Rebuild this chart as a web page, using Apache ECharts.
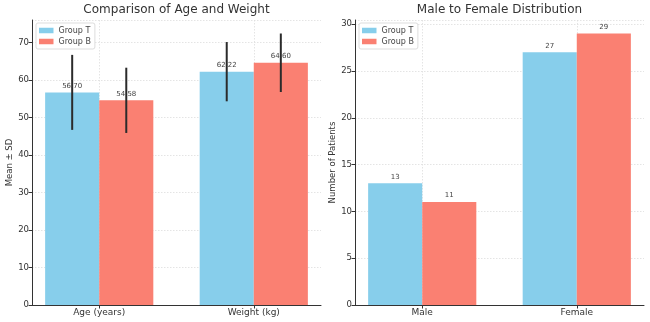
<!DOCTYPE html>
<html><head><meta charset="utf-8">
<script src="https://cdn.jsdelivr.net/npm/echarts@6/dist/echarts.min.js"></script>
<style>html,body{margin:0;padding:0;background:#fff}#c{width:650px;height:322px}</style>
</head><body><div id="c"></div>
<script>
// ---- data ----
const measureCats = ['Age (years)', 'Weight (kg)'];
const groupTMeans = [56.70, 62.22];
const groupBMeans = [54.58, 64.60];
const groupTSD = [10.0, 7.9];
const groupBSD = [8.7, 7.8];
const genderCats = ['Male', 'Female'];
const groupTCounts = [13, 27];
const groupBCounts = [11, 29];
const groupNames = ['Group T', 'Group B'];

// ---- style ----
const colors = ['#87CEEB', '#FA8072'];
const BAR = 0.35;
const FONT = 'DejaVu Sans';
const AXC = '#333';

function barRenderer(side, decimals, withErr) {
  return function (params, api) {
    const i = api.value(0), v = api.value(1);
    const x0 = side < 0 ? i - BAR : i;
    const p0 = api.coord([x0, v]);
    const p1 = api.coord([x0 + BAR, 0]);
    const cx = (p0[0] + p1[0]) / 2;
    const children = [
      { type: 'rect', shape: { x: p0[0], y: p0[1], width: p1[0] - p0[0], height: p1[1] - p0[1] },
        style: { fill: api.visual('color') } },
      { type: 'text', x: cx, y: p0[1] - 3,
        style: { text: v.toFixed(decimals), textAlign: 'center', textVerticalAlign: 'bottom',
                 font: '7px "DejaVu Sans"', fill: '#444' } }
    ];
    if (withErr) {
      const sd = api.value(2);
      const hi = api.coord([i, v + sd])[1], lo = api.coord([i, v - sd])[1];
      children.push({ type: 'line', shape: { x1: cx, y1: hi, x2: cx, y2: lo },
        style: { stroke: '#2b2b2b', lineWidth: 2 } });
    }
    return { type: 'group', children };
  };
}

function xAxisFor(gridIndex, cats) {
  return {
    type: 'value', gridIndex, min: -0.435, max: 1.435,
    axisLine: { show: true, onZero: false, lineStyle: { color: AXC, width: 1 } },
    axisTick: { show: true, customValues: [0, 1], length: 3.5, lineStyle: { color: AXC } },
    axisLabel: { customValues: [0, 1], formatter: v => cats[Math.round(v)] || '',
                 fontFamily: FONT, fontSize: 9, color: '#333', margin: 3 },
    splitLine: { show: true, lineStyle: { color: '#ddd', width: 0.8, type: [1.5, 1.5] } }
  };
}
function yAxisFor(gridIndex, max, interval, name, gap) {
  return {
    type: 'value', gridIndex, min: 0, max, interval,
    name, nameLocation: 'middle', nameRotate: 90, nameGap: gap,
    nameTextStyle: { fontFamily: FONT, fontSize: 8.5, color: '#333' },
    axisLine: { show: true, onZero: false, lineStyle: { color: AXC, width: 1 } },
    axisTick: { show: true, length: 3.5, lineStyle: { color: AXC } },
    axisLabel: { fontFamily: FONT, fontSize: 8.5, color: '#333', margin: 3,
                 showMaxLabel: false },
    splitLine: { show: true, lineStyle: { color: '#ddd', width: 0.8, type: [1.5, 1.5] } }
  };
}
function legendFor(left, top, names) {
  return {
    left, top, orient: 'vertical', data: names.map(n => ({ name: n, icon: 'rect' })),
    itemWidth: 14.5, itemHeight: 5.5, itemGap: 2,
    padding: [3, 4, 3, 3], borderColor: '#ddd', borderWidth: 1, borderRadius: 2,
    backgroundColor: '#fff', formatter: n => n.trim(),
    textStyle: { fontFamily: FONT, fontSize: 8, color: '#444', lineHeight: 9 },
    selectedMode: false
  };
}

const chart = echarts.init(document.getElementById('c'), null, { renderer: 'canvas' });
chart.setOption({
  animation: false,
  backgroundColor: '#fff',
  title: [
    { text: 'Comparison of Age and Weight', left: 176.5, top: 4, textAlign: 'center', padding: 0,
      textStyle: { fontFamily: FONT, fontSize: 12, fontWeight: 'normal', color: '#333' } },
    { text: 'Male to Female Distribution', left: 499.5, top: 4, textAlign: 'center', padding: 0,
      textStyle: { fontFamily: FONT, fontSize: 12, fontWeight: 'normal', color: '#333' } }
  ],
  legend: [
    legendFor(36, 23, groupNames),
    legendFor(359, 23, groupNames.map(n => n + ' '))
  ],
  grid: [
    { left: 32, top: 20, width: 289, height: 285 },
    { left: 355, top: 20, width: 289, height: 285 }
  ],
  xAxis: [xAxisFor(0, measureCats), xAxisFor(1, genderCats)],
  yAxis: [yAxisFor(0, 76, 10, 'Mean ± SD', 18), yAxisFor(1, 30.45, 5, 'Number of Patients', 16)],
  series: [
    { type: 'custom', name: 'Group T', xAxisIndex: 0, yAxisIndex: 0, itemStyle: { color: colors[0] },
      renderItem: barRenderer(-1, 2, true),
      data: groupTMeans.map((m, i) => [i, m, groupTSD[i]]) },
    { type: 'custom', name: 'Group B', xAxisIndex: 0, yAxisIndex: 0, itemStyle: { color: colors[1] },
      renderItem: barRenderer(1, 2, true),
      data: groupBMeans.map((m, i) => [i, m, groupBSD[i]]) },
    { type: 'custom', name: 'Group T ', xAxisIndex: 1, yAxisIndex: 1, itemStyle: { color: colors[0] },
      renderItem: barRenderer(-1, 0, false),
      data: groupTCounts.map((c, i) => [i, c]) },
    { type: 'custom', name: 'Group B ', xAxisIndex: 1, yAxisIndex: 1, itemStyle: { color: colors[1] },
      renderItem: barRenderer(1, 0, false),
      data: groupBCounts.map((c, i) => [i, c]) }
  ]
});
</script>
</body></html>
